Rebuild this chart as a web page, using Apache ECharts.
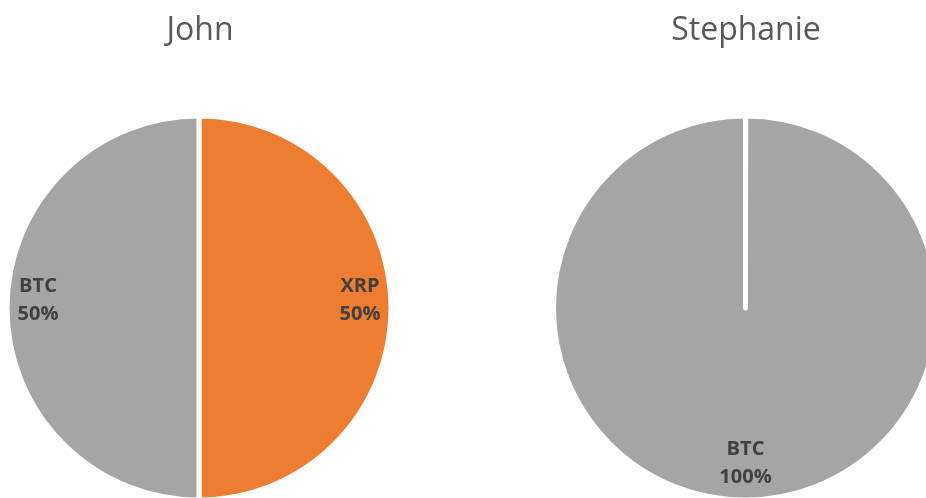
<!DOCTYPE html>
<html>
<head>
<meta charset="utf-8">
<script src="https://cdn.jsdelivr.net/npm/echarts@6/dist/echarts.min.js"></script>
<style>html,body{margin:0;padding:0;background:#fff}#c{width:926px;height:498px}</style>
</head>
<body>
<div id="c"></div>
<script>
const categories = ['XRP', 'BTC'];
const johnValues = [50, 50];
const stephanieValues = [0, 100];
const people = ['John', 'Stephanie'];
const colors = { XRP: '#ED7D31', BTC: '#A5A5A5' };

function mkData(values) {
  return categories.map((c, i) => ({
    name: c,
    value: values[i],
    itemStyle: { color: colors[c] },
    label: { show: values[i] > 0 }
  }));
}

const font = '"Open Sans", "Noto Sans", sans-serif';
const centers = [[199, 308], [745.5, 308]];
const titleX = [195, 741];
const valueSets = [johnValues, stephanieValues];
const labelRadii = [[130, 186], [132, 188]];

const series = [];
valueSets.forEach((vals, k) => {
  series.push({
    type: 'pie',
    center: centers[k],
    radius: [0, 192],
    startAngle: 90,
    clockwise: true,
    minAngle: 0.05,
    silent: true,
    animation: false,
    label: { show: false },
    labelLine: { show: false },
    emphasis: { disabled: true },
    itemStyle: { borderColor: '#ffffff', borderWidth: 5 },
    data: mkData(vals).map(d => Object.assign({}, d, { label: { show: false } }))
  });
  series.push({
    type: 'pie',
    center: centers[k],
    radius: labelRadii[k],
    startAngle: 90,
    clockwise: true,
    silent: true,
    animation: false,
    z: 5,
    emphasis: { disabled: true },
    itemStyle: { color: 'transparent', borderWidth: 0 },
    labelLine: { show: false },
    label: {
      show: true,
      position: 'inside',
      formatter: p => '{n|' + p.name + '}\n{n|' + Math.round(p.percent) + '%}\n{g| }',
      rich: {
        n: { color: '#404040', fontFamily: font, fontWeight: 'bold', fontSize: 20, lineHeight: 28 },
        g: { fontSize: 10, lineHeight: 16 }
      }
    },
    data: mkData(vals).map(d => Object.assign({}, d, { itemStyle: { color: 'transparent' } }))
  });
});

const chart = echarts.init(document.getElementById('c'), null, { renderer: 'canvas' });
chart.setOption({
  backgroundColor: '#ffffff',
  title: people.map((p, k) => ({
    text: p,
    left: titleX[k],
    top: 10,
    textAlign: 'center',
    textStyle: { color: '#595959', fontFamily: font, fontWeight: 'normal', fontSize: 32 }
  })),
  series: series
});
</script>
</body>
</html>
